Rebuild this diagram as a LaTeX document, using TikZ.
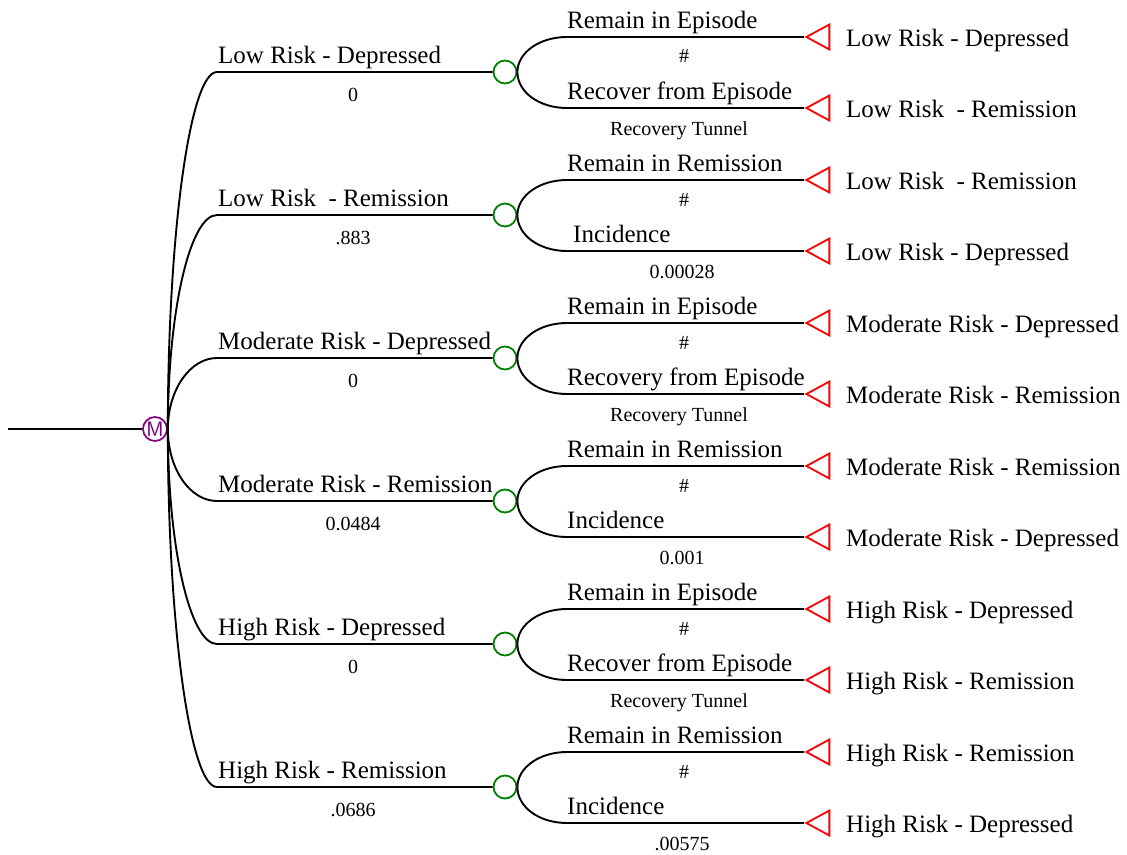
\documentclass[tikz,border=0pt]{standalone}
\usepackage{fontspec}
\setmainfont{Liberation Serif}
\usetikzlibrary{shapes.geometric}
\definecolor{mpurple}{RGB}{128,0,128}
\definecolor{cgreen}{RGB}{0,128,0}
\tikzset{
  branch/.style={line width=1.9pt},
  markov/.style={circle, draw=mpurple, text=mpurple, line width=1.7pt,
    minimum size=24pt, inner sep=0pt, font=\sffamily\fontsize{21}{21}\selectfont},
  chance/.style={circle, draw=cgreen, line width=1.8pt, minimum size=23pt, inner sep=0pt},
  terminal/.style={isosceles triangle, isosceles triangle stretches,
    shape border rotate=180, draw=red, line width=1.8pt, minimum width=25pt,
    minimum height=23pt, inner sep=0pt, anchor=apex},
  lbl/.style={font=\fontsize{25}{28}\selectfont, inner sep=0pt, anchor=base west},
  prob/.style={font=\fontsize{20}{22}\selectfont, inner sep=0pt, anchor=base},
}
\begin{document}
\begin{tikzpicture}[x=1pt,y=-1pt]
  \useasboundingbox (0,0) rectangle (1127,854);
  \coordinate (root) at (8,429);
  \node[markov] (M) at (155,429) {M};
  \draw
    (217,72) coordinate (b1)
    (217,215) coordinate (b2)
    (217,358) coordinate (b3)
    (217,501) coordinate (b4)
    (217,644) coordinate (b5)
    (217,787) coordinate (b6);
  \node[chance] (c1) at (505,72) {};
  \node[chance] (c2) at (505,215) {};
  \node[chance] (c3) at (505,358) {};
  \node[chance] (c4) at (505,501) {};
  \node[chance] (c5) at (505,644) {};
  \node[chance] (c6) at (505,787) {};
  \draw
    (567,37) coordinate (s1a)
    (567,108) coordinate (s1b)
    (567,180) coordinate (s2a)
    (567,251) coordinate (s2b)
    (567,323) coordinate (s3a)
    (567,394) coordinate (s3b)
    (567,466) coordinate (s4a)
    (567,537) coordinate (s4b)
    (567,609) coordinate (s5a)
    (567,680) coordinate (s5b)
    (567,752) coordinate (s6a)
    (567,823) coordinate (s6b);
  \node[terminal] (t1a) at (804,37) {};
  \node[terminal] (t1b) at (804,108) {};
  \node[terminal] (t2a) at (804,180) {};
  \node[terminal] (t2b) at (804,251) {};
  \node[terminal] (t3a) at (804,323) {};
  \node[terminal] (t3b) at (804,394) {};
  \node[terminal] (t4a) at (804,466) {};
  \node[terminal] (t4b) at (804,537) {};
  \node[terminal] (t5a) at (804,609) {};
  \node[terminal] (t5b) at (804,680) {};
  \node[terminal] (t6a) at (804,752) {};
  \node[terminal] (t6b) at (804,823) {};
  \begin{scope}[branch]
    \draw (root) -- (M);
    \draw (M.east) .. controls +(0,-196) and +(-27,0) .. (b1) -- (c1);
    \draw (M.east) .. controls +(0,-118) and +(-27,0) .. (b2) -- (c2);
    \draw (M.east) .. controls +(0,-39) and +(-27,0) .. (b3) -- (c3);
    \draw (M.east) .. controls +(0,40) and +(-27,0) .. (b4) -- (c4);
    \draw (M.east) .. controls +(0,118) and +(-27,0) .. (b5) -- (c5);
    \draw (M.east) .. controls +(0,197) and +(-27,0) .. (b6) -- (c6);
    \draw (c1.east) .. controls +(0,-19) and +(-28,0) .. (s1a) -- (t1a);
    \draw (c1.east) .. controls +(0,20) and +(-28,0) .. (s1b) -- (t1b);
    \draw (c2.east) .. controls +(0,-19) and +(-28,0) .. (s2a) -- (t2a);
    \draw (c2.east) .. controls +(0,20) and +(-28,0) .. (s2b) -- (t2b);
    \draw (c3.east) .. controls +(0,-19) and +(-28,0) .. (s3a) -- (t3a);
    \draw (c3.east) .. controls +(0,20) and +(-28,0) .. (s3b) -- (t3b);
    \draw (c4.east) .. controls +(0,-19) and +(-28,0) .. (s4a) -- (t4a);
    \draw (c4.east) .. controls +(0,20) and +(-28,0) .. (s4b) -- (t4b);
    \draw (c5.east) .. controls +(0,-19) and +(-28,0) .. (s5a) -- (t5a);
    \draw (c5.east) .. controls +(0,20) and +(-28,0) .. (s5b) -- (t5b);
    \draw (c6.east) .. controls +(0,-19) and +(-28,0) .. (s6a) -- (t6a);
    \draw (c6.east) .. controls +(0,20) and +(-28,0) .. (s6b) -- (t6b);
  \end{scope}
  \node[lbl] (l1) at (218,63) {Low Risk - Depressed};
  \node[lbl] (l2) at (218,206) {Low Risk\ \ - Remission};
  \node[lbl] (l3) at (218,349) {Moderate Risk - Depressed};
  \node[lbl] (l4) at (218,492) {Moderate Risk - Remission};
  \node[lbl] (l5) at (218,635) {High Risk - Depressed};
  \node[lbl] (l6) at (218,778) {High Risk - Remission};
  \node[prob] (p1) at (353,101) {0};
  \node[prob] (p2) at (353,244) {.883};
  \node[prob] (p3) at (353,387) {0};
  \node[prob] (p4) at (353,530) {0.0484};
  \node[prob] (p5) at (353,673) {0};
  \node[prob] (p6) at (353,816) {.0686};
  \node[lbl] (l1a) at (567,28) {Remain in Episode};
  \node[lbl] (l1b) at (567,99) {Recover from Episode};
  \node[lbl] (l2a) at (567,171) {Remain in Remission};
  \node[lbl] (l2b) at (573,242) {Incidence};
  \node[lbl] (l3a) at (567,314) {Remain in Episode};
  \node[lbl] (l3b) at (567,385) {Recovery from Episode};
  \node[lbl] (l4a) at (567,457) {Remain in Remission};
  \node[lbl] (l4b) at (567,528) {Incidence};
  \node[lbl] (l5a) at (567,600) {Remain in Episode};
  \node[lbl] (l5b) at (567,671) {Recover from Episode};
  \node[lbl] (l6a) at (567,743) {Remain in Remission};
  \node[lbl] (l6b) at (567,814) {Incidence};
  \node[prob] (h1) at (684,62) {\#};
  \node[prob] (h2) at (684,206) {\#};
  \node[prob] (h3) at (684,349) {\#};
  \node[prob] (h4) at (684,492) {\#};
  \node[prob] (h5) at (684,635) {\#};
  \node[prob] (h6) at (684,778) {\#};
  \node[prob] (q1) at (679,135) {Recovery Tunnel};
  \node[prob] (q2) at (682,278) {0.00028};
  \node[prob] (q3) at (679,421) {Recovery Tunnel};
  \node[prob] (q4) at (682,564) {0.001};
  \node[prob] (q5) at (679,707) {Recovery Tunnel};
  \node[prob] (q6) at (682,850) {.00575};
  \node[lbl] (e1a) at (846,46) {Low Risk - Depressed};
  \node[lbl] (e1b) at (846,117) {Low Risk\ \ - Remission};
  \node[lbl] (e2a) at (846,189) {Low Risk\ \ - Remission};
  \node[lbl] (e2b) at (846,260) {Low Risk - Depressed};
  \node[lbl] (e3a) at (846,332) {Moderate Risk - Depressed};
  \node[lbl] (e3b) at (846,403) {Moderate Risk - Remission};
  \node[lbl] (e4a) at (846,475) {Moderate Risk - Remission};
  \node[lbl] (e4b) at (846,546) {Moderate Risk - Depressed};
  \node[lbl] (e5a) at (846,618) {High Risk - Depressed};
  \node[lbl] (e5b) at (846,689) {High Risk - Remission};
  \node[lbl] (e6a) at (846,761) {High Risk - Remission};
  \node[lbl] (e6b) at (846,832) {High Risk - Depressed};
\end{tikzpicture}
\end{document}
